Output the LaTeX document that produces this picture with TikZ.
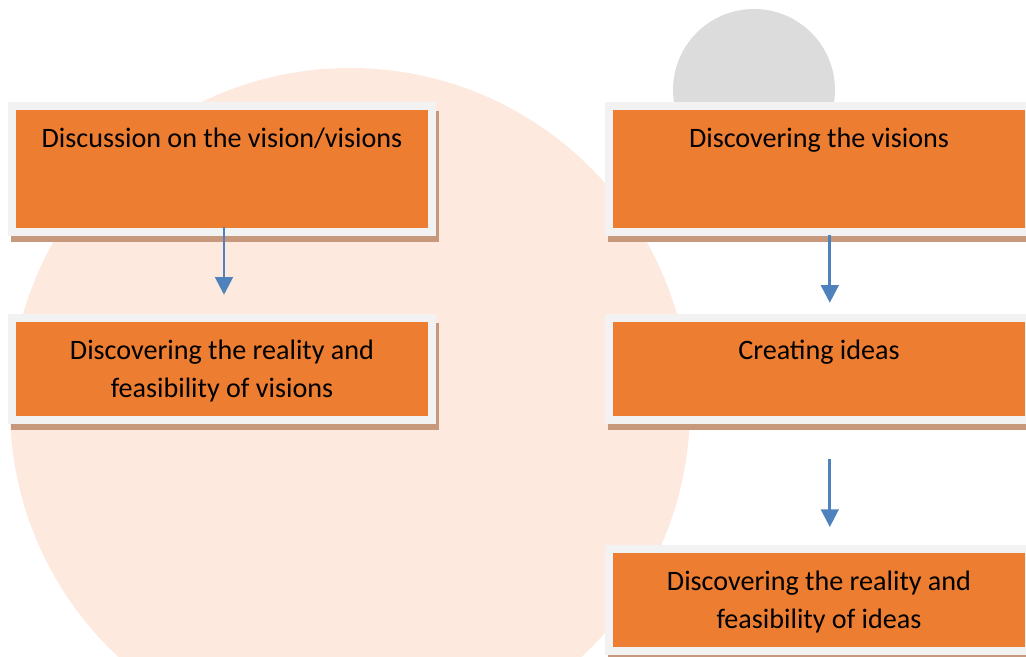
\documentclass[tikz,border=0pt]{standalone}
\usepackage{fontspec}
\setmainfont{Carlito}
\usetikzlibrary{positioning,arrows.meta}
\definecolor{boxorange}{HTML}{ED7D31}
\definecolor{framegray}{HTML}{F2F2F2}
\definecolor{shadowbrown}{HTML}{C8987C}
\definecolor{peach}{HTML}{FDE9DE}
\definecolor{discgray}{HTML}{DCDCDC}
\definecolor{flowblue}{HTML}{4F81BD}

\begin{document}
\begin{tikzpicture}[x=0.025cm,y=-0.025cm,
    every node/.style={font=\fontsize{20}{27}\selectfont},
    stepbox/.style={draw=framegray,line width=0.2cm,fill=boxorange,
      minimum width=10.5cm,inner sep=0pt},
    steptext/.style={align=center,inner sep=0pt},
    flow/.style={flowblue,line width=1.9pt,
      -{Triangle[width=0.44cm,length=0.44cm]}}]
  \useasboundingbox (0,0) rectangle (1026,657);
  % background shapes
  \fill[peach] (350,408) circle[radius=340];
  \fill[discgray] (754,90) circle[radius=81];
  % shadows
  \foreach \l/\t/\r/\b in {12/106/432/232, 12/318/432/420,
      609/106/1029/232, 609/318/1029/420, 609/549/1029/651}
    \fill[shadowbrown] (\l+-1,\t+5) rectangle (\r+7,\b+10);
  % boxes
  \node[stepbox,minimum height=3.15cm] (disc) at (222,169) {};
  \node[stepbox,minimum height=2.55cm] (realvis) at (222,369) {};
  \node[stepbox,minimum height=3.15cm] (vis) at (819,169) {};
  \node[stepbox,minimum height=2.55cm] (ideas) at (819,369) {};
  \node[stepbox,minimum height=2.55cm] (realideas) at (819,600) {};
  % texts
  \node[steptext,below=0.46cm of disc.north] (disc-t)
    {\strut Discussion on the vision/visions};
  \node[steptext,below=0.46cm of realvis.north] (realvis-t)
    {\strut Discovering the reality and\\feasibility of visions};
  \node[steptext,below=0.46cm of vis.north] (vis-t)
    {\strut Discovering the visions};
  \node[steptext,below=0.46cm of ideas.north] (ideas-t)
    {\strut Creating ideas};
  \node[steptext,below=0.46cm of realideas.north] (realideas-t)
    {\strut Discovering the reality and\\feasibility of ideas};
  % arrows
  \draw[flow] ([xshift=0.05cm,yshift=0.22cm]disc.south)
    -- ([xshift=0.05cm,yshift=0.48cm]realvis.north);
  \draw[flow] ([xshift=0.27cm,yshift=0.02cm]vis.south)
    -- ([xshift=0.27cm,yshift=0.28cm]ideas.north);
  \draw[flow] ([xshift=0.27cm,yshift=-0.88cm]ideas.south)
    -- ([xshift=0.27cm,yshift=0.45cm]realideas.north);
\end{tikzpicture}
\end{document}
